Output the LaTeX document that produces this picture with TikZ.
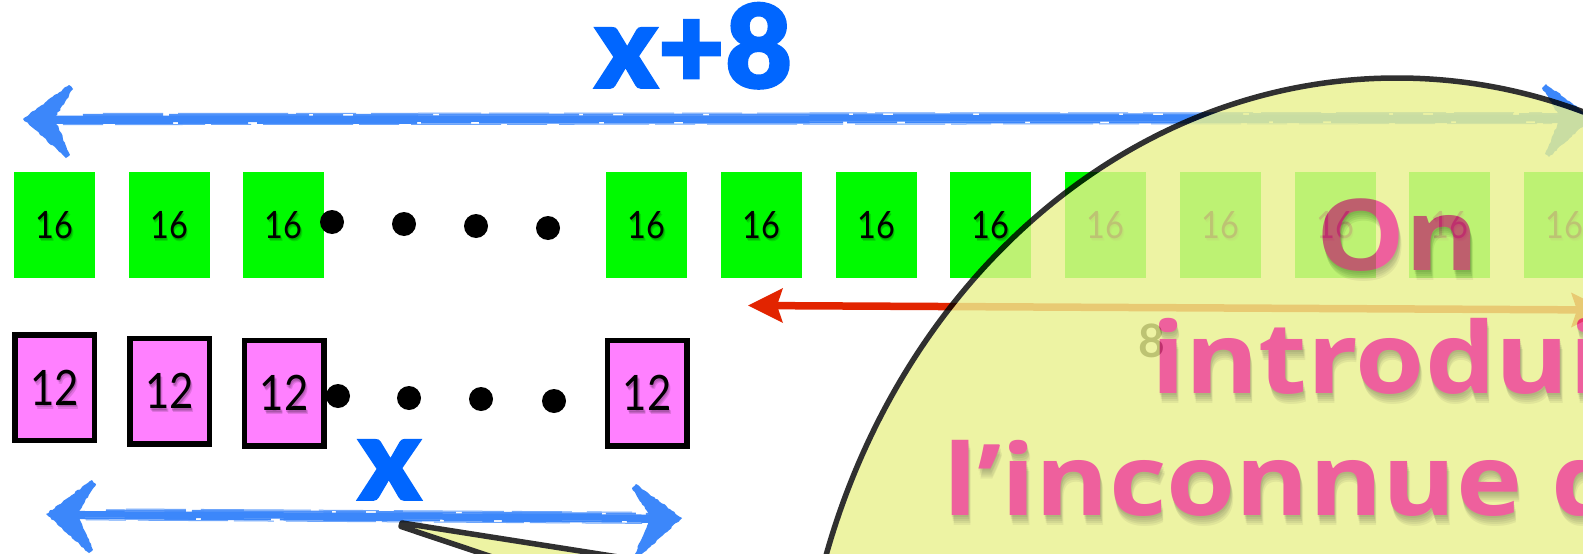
\documentclass[tikz,border=0pt]{standalone}
\usepackage{fontspec}
\usetikzlibrary{decorations.pathmorphing}
\setmainfont{Lato}
\newfontfamily\digitfont{Lato}[FakeStretch=0.86]
\newfontfamily\labelfont{Lato}
\IfFontExistsTF{Lato Black}
  {\newfontfamily\heavyfamily{Lato Black}[FakeBold=1.5]\newcommand\heavyfont{\heavyfamily}}
  {\newfontfamily\heavyfamily{Lato}[BoldFeatures={FakeBold=4}]\newcommand\heavyfont{\heavyfamily\bfseries}}
\newfontfamily\calloutfamily{Open Sans}[FakeStretch=1.13]

\definecolor{boxgreen}{RGB}{0,250,0}
\definecolor{boxpink}{RGB}{255,128,255}
\definecolor{brushblue}{RGB}{60,135,250}
\definecolor{labelblue}{RGB}{0,102,255}
\definecolor{arrowred}{RGB}{226,36,0}
\definecolor{calloutfill}{RGB}{234,241,142}
\definecolor{calloutpink}{RGB}{235,60,135}

\pgfmathsetseed{7}

\tikzset{
  gbox/.style={fill=boxgreen, minimum width=81pt, minimum height=106pt, inner sep=0pt,
    font=\digitfont\fontsize{37.7}{38}\selectfont},
  gshadow/.style={inner sep=0pt, text=black, text opacity=0.12,
    font=\digitfont\fontsize{37.7}{38}\selectfont},
  pbox/.style={draw=black, line width=5.5pt, fill=boxpink, minimum width=79.5pt,
    minimum height=105.5pt, inner sep=0pt, font=\digitfont\fontsize{48.8}{49}\selectfont},
  pshadow/.style={inner sep=0pt, text=black, text opacity=0.12,
    font=\digitfont\fontsize{48.8}{49}\selectfont},
  dotnode/.style={circle, fill=black, minimum size=24pt, inner sep=0pt},
  bluelabel/.style={inner sep=0pt, text=labelblue, font=\heavyfont\fontsize{116}{116}\selectfont},
  callouttxt/.style={inner sep=0pt, text=calloutpink,
    font=\calloutfamily\bfseries\fontsize{99}{99}\selectfont},
  brushhead/.pic={
    \fill[brushblue, decorate, decoration={random steps, segment length=2.5pt, amplitude=0.7pt}]
      (0,0) -- (46,-34) -- (50,-30) -- (33,-3) -- (33,3) -- (47,36) -- (43,39) -- cycle;},
  redhead/.pic={\fill[arrowred] (0,0) -- (35,-17.5) -- (29,0) -- (35,17.5) -- cycle;}
}

% hand-brushed double arrow shaft between two named coordinates
\newcommand\brushshaft[2]{%
  \draw[brushblue, line width=6.5pt, shorten <=24pt, shorten >=24pt] (#1) -- (#2);
  \draw[brushblue, line width=2pt, shorten <=30pt, shorten >=24pt,
    dash pattern=on 120pt off 5pt on 70pt off 9pt on 160pt off 4pt on 50pt off 8pt]
    ([yshift=-4pt]#1) -- ([yshift=-4pt]#2);
  \draw[brushblue, line width=2pt, opacity=.9, shorten <=60pt, shorten >=30pt,
    dash pattern=on 80pt off 6pt on 140pt off 4pt on 30pt off 10pt]
    ([yshift=4pt]#1) -- ([yshift=4pt]#2);
  \draw[brushblue!75!white, line width=1pt, shorten <=40pt, shorten >=40pt,
    dash pattern=on 40pt off 12pt on 90pt off 6pt]
    ([yshift=-5.6pt]#1) -- ([yshift=-5.6pt]#2);
  \draw[brushblue!75!white, line width=1pt, shorten <=80pt, shorten >=50pt,
    dash pattern=on 60pt off 15pt on 110pt off 8pt]
    ([yshift=5.5pt]#1) -- ([yshift=5.5pt]#2);
}

% callout line with a soft drop shadow: #1 name, #2 anchor, #3 coordinate, #4 text
\newcommand\calloutline[4]{%
  \foreach \dx/\dy [count=\k] in {0.5/2, 1/4, 1.5/6, 2/8, 2.5/10}
    {\node[callouttxt, text=black, text opacity=0.07, anchor=#2] (#1s\k) at ([shift={(\dx,\dy)}]#3) {#4};}
  \node[callouttxt, anchor=#2] (#1) at (#3) {#4};
}

\begin{document}
\begin{tikzpicture}[x=1pt, y=-1pt]
\useasboundingbox (0,0) rectangle (1583,554);
\clip (0,0) rectangle (1583,554);
\fill[white] (0,0) rectangle (1583,554);

% top measure: x+8
\coordinate (topL) at (23,119);
\coordinate (topR) at (1592,118);
\brushshaft{topL}{topR}
\pic at (topL) {brushhead};
\pic[xscale=-1] at (topR) {brushhead};
\node[bluelabel, anchor=base] (xpluseight) at (693.5,88) {x+8};

% row of 16
\foreach \i/\x in {1/54.5, 2/169, 3/283.5, 4/646.5, 5/761.25, 6/876, 7/990.75,
                   8/1105.5, 9/1220.25, 10/1335, 11/1449.75, 12/1564.5}{
  \node[gbox] (g\i) at (\x,225) {16};
  \foreach \dx/\dy [count=\k] in {0.6/1.2, 1.2/2.4, 1.8/3.6}
    \node[gshadow] (g\i s\k) at ([shift={(\dx,\dy)}]g\i.center) {16};
}
\foreach \i/\x/\y in {1/332/222, 2/404/224, 3/476/226, 4/548/228}
  \node[dotnode] (dg\i) at (\x,\y) {};

% row of 12
\foreach \i/\x/\y in {1/54.5/387.5, 2/169.5/391, 3/284/393, 4/647/393}{
  \node[pbox] (p\i) at (\x,\y) {12};
  \foreach \dx/\dy [count=\k] in {0.7/1.4, 1.4/2.8, 2.1/4.2}
    \node[pshadow] (p\i s\k) at ([shift={(\dx,\dy)}]p\i.center) {12};
}
\foreach \i/\x/\y in {1/338/396, 2/409/398, 3/481/399, 4/554/401}
  \node[dotnode] (dp\i) at (\x,\y) {};

% difference arrow with its length
\coordinate (redL) at (748,305.5);
\coordinate (redR) at (1606,310);
\draw[arrowred, line width=7.5pt, shorten <=28pt, shorten >=28pt] (redL) -- (redR);
\pic at (redL) {redhead};
\pic[xscale=-1] at (redR) {redhead};
\node[inner sep=0pt, font=\labelfont\bfseries\fontsize{46}{46}\selectfont] (eight) at (1152,341) {8};

% bottom measure: x
\coordinate (botL) at (46,514);
\coordinate (botR) at (682,518);
\brushshaft{botL}{botR}
\pic at (botL) {brushhead};
\pic[xscale=-1] at (botR) {brushhead};
\node[bluelabel, anchor=base] (xlabel) at (389.5,500) {x};

% speech bubble
\begin{scope}[transparency group, opacity=0.81]
  \fill[calloutfill] (1397,768) ellipse [x radius=600, y radius=690];
  \fill[calloutfill] (1000,617) -- (402,523) -- (401,526.5) -- (950,710) -- cycle;
  \draw[black, line width=5.5pt] (1397,768) ellipse [x radius=600, y radius=690];
  \draw[black, line width=5.5pt, line join=round] (1000,617) -- (402,523) -- (401,526.5) -- (950,710);
  \coordinate (c1) at (1398,270);
  \coordinate (c2) at (1151,393);
  \coordinate (c3) at (943,515);
  \calloutline{lineone}{base}{c1}{On}
  \calloutline{linetwo}{base west}{c2}{introdui}
  \calloutline{linethree}{base west}{c3}{l’inconnue d}
\end{scope}
\end{tikzpicture}
\end{document}
